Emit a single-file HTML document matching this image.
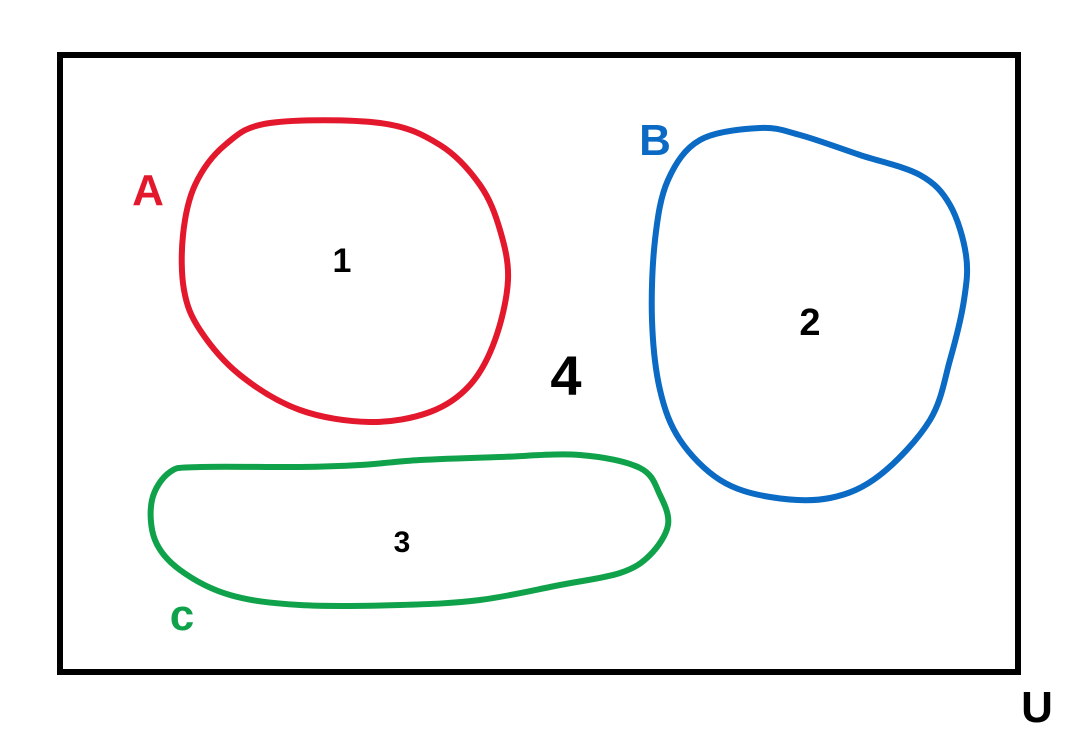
<!DOCTYPE html>
<html><head><meta charset="utf-8"><style>
html,body{margin:0;padding:0;background:#fff;}
svg{display:block;}
text{font-family:"Liberation Sans",sans-serif;font-weight:bold;}
</style></head><body>
<svg width="1069" height="744" viewBox="0 0 1069 744">
<rect x="60" y="55" width="958" height="617" fill="none" stroke="#000" stroke-width="6"/>
<path id="setA" fill="none" stroke="#e3182c" stroke-width="6" stroke-linejoin="round"/>
<path id="setB" fill="none" stroke="#0a6ac4" stroke-width="6" stroke-linejoin="round"/>
<path id="setC" fill="none" stroke="#10a24b" stroke-width="6" stroke-linejoin="round"/>
<text x="148" y="205" font-size="44" fill="#e3182c" text-anchor="middle">A</text>
<text x="655" y="155" font-size="44" fill="#0a6ac4" text-anchor="middle">B</text>
<text x="182" y="630" font-size="44" fill="#10a24b" text-anchor="middle">c</text>
<text x="1037" y="722" font-size="44" fill="#000" text-anchor="middle">U</text>
<text x="342" y="272" font-size="34" fill="#000" text-anchor="middle">1</text>
<text x="810" y="335" font-size="38" fill="#000" text-anchor="middle">2</text>
<text x="402" y="552" font-size="30" fill="#000" text-anchor="middle">3</text>
<text x="566" y="395" font-size="56" fill="#000" text-anchor="middle">4</text>
</svg>
<script>
const pointsA=[[270,123],[380,123],[440,145],[480,185],[500,230],[508,280],[495,340],[470,385],[430,412],[370,422],[300,410],[240,375],[200,330],[184,290],[183,235],[195,185],[225,145]];
const pointsB=[[760,128],[800,135],[860,155],[920,175],[950,205],[966,255],[964,300],[950,360],[930,420],[880,475],[830,498],[770,497],[720,480],[680,440],[660,390],[652,320],[655,240],[668,180],[700,140]];
const pointsC=[[200,467],[300,467],[360,465],[420,460],[500,457],[580,455],[640,468],[660,495],[668,525],[650,555],[620,573],[560,585],[480,600],[400,605],[300,605],[230,595],[180,570],[155,540],[152,500],[170,472]];
function smooth(p){
  const n=p.length;let d=`M${p[0][0]},${p[0][1]}`;
  for(let i=0;i<n;i++){
    const p0=p[(i-1+n)%n],p1=p[i],p2=p[(i+1)%n],p3=p[(i+2)%n];
    const c1=[p1[0]+(p2[0]-p0[0])/6,p1[1]+(p2[1]-p0[1])/6];
    const c2=[p2[0]-(p3[0]-p1[0])/6,p2[1]-(p3[1]-p1[1])/6];
    d+=` C${c1[0]},${c1[1]} ${c2[0]},${c2[1]} ${p2[0]},${p2[1]}`;
  }
  return d+'Z';
}
document.getElementById('setA').setAttribute('d',smooth(pointsA));
document.getElementById('setB').setAttribute('d',smooth(pointsB));
document.getElementById('setC').setAttribute('d',smooth(pointsC));
</script>
</body></html>
